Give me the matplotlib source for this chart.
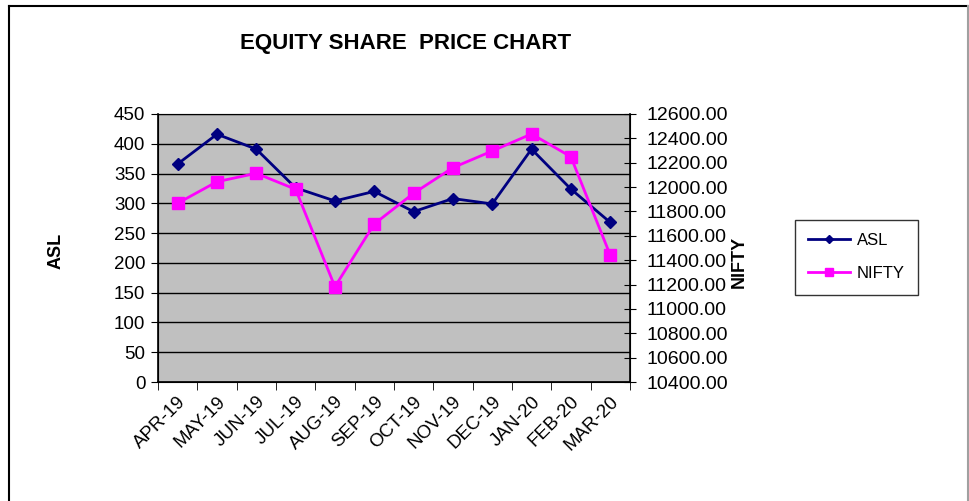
import matplotlib.pyplot as plt
import numpy as np
from matplotlib.lines import Line2D

plt.rcParams['font.family'] = ['Liberation Sans', 'DejaVu Sans']

months = ['APR-19', 'MAY-19', 'JUN-19', 'JUL-19', 'AUG-19', 'SEP-19',
          'OCT-19', 'NOV-19', 'DEC-19', 'JAN-20', 'FEB-20', 'MAR-20']
asl = [366, 416, 391, 326, 304, 320, 286, 308, 299, 391, 324, 268]
nifty = [11867, 12044, 12113, 11982, 11182, 11697,
         11949, 12159, 12296, 12436, 12249, 11443]

fig = plt.figure(figsize=(9.69, 5.01), dpi=100)
ax = fig.add_axes([0.163, 0.2375, 0.487, 0.535])
ax.set_facecolor('#c0c0c0')

x = np.arange(len(months))
l1, = ax.plot(x, asl, color='#000080', marker='D', markersize=6, lw=2, zorder=3)
ax.set_ylim(0, 450)
ax.set_yticks(np.arange(0, 451, 50))
ax.yaxis.grid(True, color='black', lw=1)
ax.set_axisbelow(True)
ax.set_xlim(-0.5, 11.5)
ax.set_xticks(x)
ax.set_xticklabels(months, rotation=45, ha='right', rotation_mode='anchor', fontsize=13.5)
ax.tick_params(axis='x', length=0, pad=8)
ax.set_xticks(np.arange(-0.5, 12, 1), minor=True)
ax.tick_params(axis='x', which='minor', length=6, direction='out')
ax.tick_params(axis='y', labelsize=13.5, length=5, direction='out', pad=4)
ax.spines['top'].set_color('#a0a0a0')
ax.spines['left'].set_linewidth(1.2)
ax.spines['bottom'].set_linewidth(1.2)

ax2 = ax.twinx()
l2, = ax2.plot(x, nifty, color='#ff00ff', marker='s', markersize=9, lw=2, zorder=3)
ax2.set_ylim(10400, 12600)
ax2.set_yticks(np.arange(10400, 12601, 200))
ax2.set_yticklabels([f'{v:.2f}' for v in np.arange(10400, 12601, 200)])
ax2.tick_params(axis='y', labelsize=14, length=8, direction='inout', pad=8)
ax2.spines['right'].set_linewidth(1.2)

fig.text(0.419, 0.914, 'EQUITY SHARE  PRICE CHART', ha='center', va='center',
         fontsize=16, fontweight='bold')
fig.text(0.058, 0.50, 'ASL', rotation=90, ha='center', va='center',
         fontsize=13, fontweight='bold')
fig.text(0.763, 0.478, 'NIFTY', rotation=90, ha='center', va='center',
         fontsize=13, fontweight='bold')

fig.legend([l1, l2], ['ASL', 'NIFTY'], loc='center', bbox_to_anchor=(0.884, 0.487),
           frameon=True, fancybox=False, edgecolor='black', fontsize=12,
           handlelength=2.5, labelspacing=1.1, borderpad=0.8, markerscale=0.7,
           handletextpad=0.4)

# outer border
fig.add_artist(Line2D([0.0093, 0.0093], [0, 0.988], color='black', lw=1.5, transform=fig.transFigure))
fig.add_artist(Line2D([0.0093, 0.999], [0.988, 0.988], color='black', lw=1.5, transform=fig.transFigure))
fig.add_artist(Line2D([0.999, 0.999], [0, 0.988], color='#a0a0a0', lw=1.5, transform=fig.transFigure))

fig.savefig('out.png', dpi=100)
